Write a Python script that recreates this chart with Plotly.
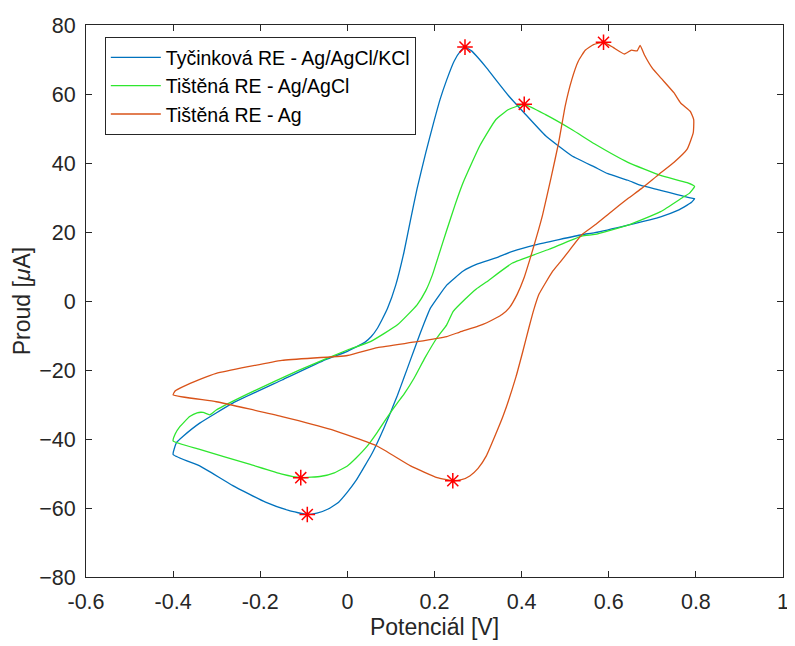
import plotly.graph_objects as go

# ---- data ----
series_names = ["Tyčinková RE - Ag/AgCl/KCl", "Tištěná RE - Ag/AgCl", "Tištěná RE - Ag"]

blue_x = [-0.400, -0.392, -0.377, -0.339, -0.263, -0.150, -0.050, 0.000, 0.040, 0.055, 0.069, 0.080,
          0.092, 0.111, 0.130, 0.145, 0.160, 0.180, 0.198, 0.213, 0.228, 0.245, 0.260, 0.270, 0.285,
          0.300, 0.320, 0.341, 0.370, 0.406, 0.455, 0.515, 0.568, 0.598, 0.644, 0.674, 0.719, 0.757,
          0.787, 0.797,
          0.790, 0.780, 0.757, 0.719, 0.644, 0.568, 0.538, 0.432, 0.379, 0.341, 0.296, 0.266, 0.228,
          0.210, 0.190, 0.175, 0.160, 0.145, 0.130, 0.115, 0.100, 0.084, 0.069, 0.054, 0.039, 0.020,
          0.000, -0.020, -0.044, -0.070, -0.092, -0.135, -0.188, -0.263, -0.339, -0.400]
blue_y = [-44.5, -41.0, -39.2, -35.4, -29.6, -22.9, -17.0, -14.6, -12.0, -10.3, -7.9, -5.3,
          -2.2, 4.6, 14.2, 23.5, 32.6, 43.0, 51.7, 58.5, 64.1, 69.5, 72.5, 73.6, 72.5,
          70.5, 67.5, 64.1, 59.5, 54.5, 47.9, 42.1, 38.8, 36.9, 35.0, 33.5, 32.1, 30.8,
          29.9, 29.7,
          28.6, 27.8, 26.2, 24.4, 22.0, 19.8, 19.2, 16.3, 14.4, 12.5, 10.6, 8.7, 4.6,
          1.5, -2.2, -6.8, -11.8, -17.0, -22.2, -27.3, -32.0, -36.8, -41.0, -44.8, -48.0, -52.0,
          -55.4, -58.3, -60.3, -61.5, -61.9, -60.7, -58.3, -53.5, -47.8, -44.5]

green_x = [-0.400, -0.395, -0.385, -0.362, -0.345, -0.331, -0.316, -0.301, -0.225, -0.112, 0.000,
           0.054, 0.115, 0.160, 0.180, 0.195, 0.209, 0.228, 0.247, 0.266, 0.304, 0.341, 0.370,
           0.406, 0.455, 0.515, 0.568, 0.644, 0.719, 0.780, 0.797,
           0.785, 0.772, 0.719, 0.644, 0.568, 0.538, 0.463, 0.379, 0.319, 0.296, 0.270, 0.243,
           0.228, 0.205, 0.178, 0.153, 0.130, 0.115, 0.091, 0.069, 0.046, 0.020, 0.000, -0.030,
           -0.060, -0.107, -0.150, -0.225, -0.339, -0.400]
green_y = [-40.6, -38.5, -36.5, -33.5, -32.4, -32.3, -33.0, -31.6, -26.7, -20.1, -14.2,
           -11.7, -6.9, -1.1, 3.0, 7.5, 13.0, 20.5, 27.8, 34.4, 45.0, 52.6, 55.5,
           57.0, 54.0, 49.7, 45.5, 40.2, 36.4, 34.3, 33.2,
           31.2, 30.2, 25.9, 22.0, 19.3, 18.8, 15.0, 11.0, 5.5, 3.5, 0.5, -3.0,
           -6.9, -10.8, -16.5, -22.4, -27.0, -29.5, -33.8, -38.0, -42.0, -45.5, -47.8, -49.8,
           -50.8, -51.2, -50.2, -47.3, -43.0, -40.6]

orange_x = [-0.400, -0.395, -0.377, -0.340, -0.301, -0.150, 0.000, 0.069, 0.160, 0.228, 0.258,
            0.300, 0.320, 0.340, 0.355, 0.372, 0.390, 0.405, 0.420, 0.434, 0.448, 0.468, 0.485,
            0.500, 0.515, 0.530, 0.546, 0.565, 0.588, 0.610, 0.636, 0.652, 0.665, 0.672, 0.682,
            0.700, 0.720, 0.750, 0.765, 0.787, 0.795, 0.794,
            0.780, 0.750, 0.712, 0.674, 0.644, 0.606, 0.568, 0.538, 0.508, 0.488, 0.471, 0.455,
            0.440, 0.428, 0.417, 0.403, 0.387, 0.357, 0.319, 0.300, 0.281, 0.262, 0.242, 0.206,
            0.145, 0.069, -0.036, -0.150, -0.301, -0.400]
orange_y = [-27.2, -26.0, -24.8, -22.8, -21.0, -17.2, -15.8, -13.5, -11.8, -10.3, -9.0,
            -7.3, -6.3, -5.0, -3.9, -1.9, 2.0, 6.5, 12.5, 18.5, 24.9, 36.0, 45.9,
            56.5, 64.1, 69.5, 72.7, 74.3, 75.0, 73.5, 71.6, 72.7, 72.5, 74.1, 71.3,
            67.5, 64.6, 60.3, 57.4, 55.0, 52.6, 48.8,
            44.0, 40.2, 36.4, 32.5, 29.7, 25.9, 22.0, 19.2, 14.4, 11.2, 8.6, 5.3,
            2.0, -2.5, -7.6, -14.5, -22.0, -33.5, -44.9, -48.5, -50.7, -51.8, -52.1, -51.2,
            -47.8, -42.1, -37.3, -33.5, -29.2, -27.2]

peak_x = [0.270, -0.092, 0.406, -0.107, 0.588, 0.242]
peak_y = [73.6, -61.9, 57.0, -51.2, 75.0, -52.1]

x_ticks = [-0.6, -0.4, -0.2, 0, 0.2, 0.4, 0.6, 0.8, 1]
x_tick_text = ["-0.6", "-0.4", "-0.2", "0", "0.2", "0.4", "0.6", "0.8", "1"]
y_ticks = [-80, -60, -40, -20, 0, 20, 40, 60, 80]

colors = ["#0072BD", "#2EE62E", "#D95319"]
FONT = "Liberation Sans, Arial, Helvetica, sans-serif"
AXC = "#262626"

fig = go.Figure()
for name, xs, ys, c in zip(series_names, [blue_x, green_x, orange_x], [blue_y, green_y, orange_y], colors):
    fig.add_trace(go.Scatter(x=xs, y=ys, mode="lines", name=name,
                             line=dict(color=c, width=1.3, shape="spline", smoothing=0.4)))

fig.add_trace(go.Scatter(x=peak_x, y=peak_y, mode="markers", showlegend=False,
                         marker=dict(symbol="asterisk-open", size=13, color="#FF0000",
                                     line=dict(color="#FF0000", width=1.5))))

axis_common = dict(showline=True, linecolor=AXC, linewidth=1, mirror="allticks",
                   ticks="inside", ticklen=6, tickcolor=AXC, tickwidth=1,
                   showgrid=False, zeroline=False, ticklabelstandoff=5,
                   tickfont=dict(family=FONT, size=21.5, color=AXC))

# the page body has an 8px margin; the figure is sized so the plot lands where the reference has it
fig.update_layout(
    width=787, height=638,
    margin=dict(l=78, r=6, t=14, b=69),
    paper_bgcolor="white", plot_bgcolor="white",
    xaxis=dict(range=[-0.6, 1], tickvals=x_ticks, ticktext=x_tick_text,
               title=dict(text="Potenciál [V]", font=dict(family=FONT, size=23, color=AXC), standoff=2),
               **axis_common),
    yaxis=dict(range=[-80, 80], tickvals=y_ticks,
               title=dict(text="Proud [<i>μ</i>A]", font=dict(family=FONT, size=23, color=AXC), standoff=2),
               **axis_common),
    legend=dict(x=0.027, y=0.978, xanchor="left", yanchor="top",
                bgcolor="white", bordercolor=AXC, borderwidth=1,
                font=dict(family=FONT, size=19.5, color="black"),
                tracegroupgap=0, itemwidth=50),
    showlegend=True,
)

fig.write_html("out.html", config={"displayModeBar": False})
